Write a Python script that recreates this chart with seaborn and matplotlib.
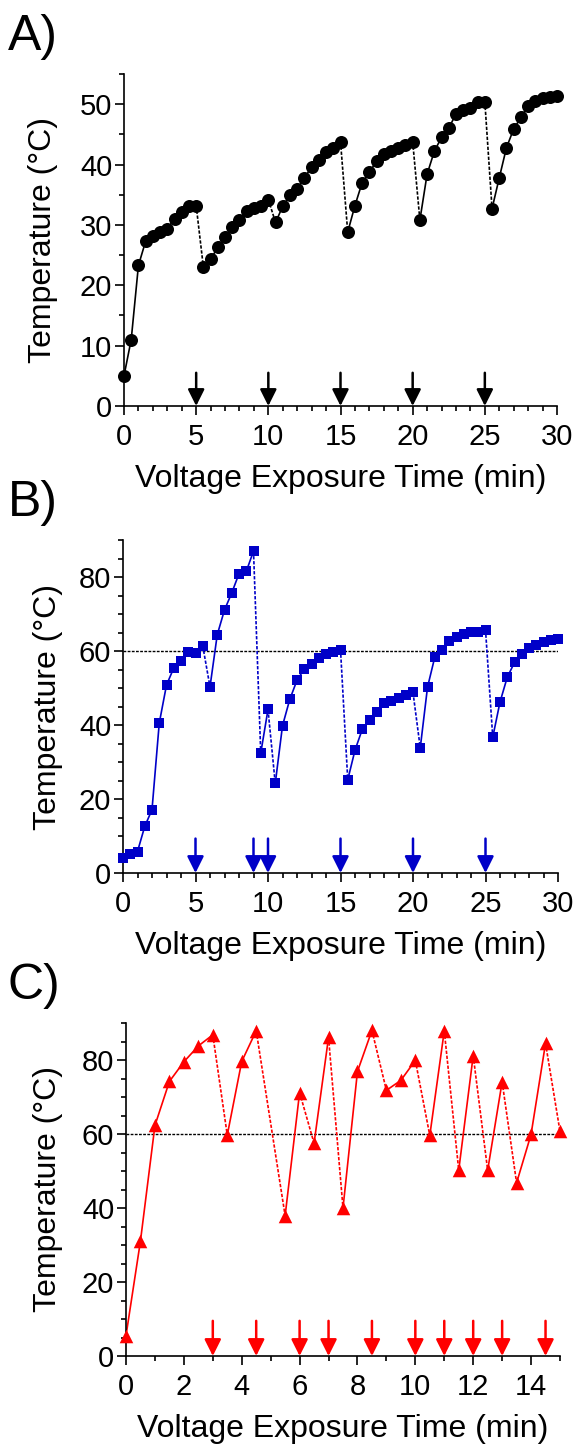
import pandas as pd
import seaborn as sns
import matplotlib.pyplot as plt
import matplotlib.ticker as ticker

sns.set_style("ticks")
plt.rcParams['font.family'] = ['Liberation Sans', 'DejaVu Sans']
plt.rcParams['axes.edgecolor'] = 'black'
plt.rcParams['axes.labelcolor'] = 'black'
plt.rcParams['text.color'] = 'black'
plt.rcParams['xtick.color'] = 'black'
plt.rcParams['ytick.color'] = 'black'

# panel A - black circles
time_a = [0, 0.5, 1, 1.5, 2, 2.5, 3, 3.5, 4, 4.5, 5,
          5.5, 6, 6.5, 7, 7.5, 8, 8.5, 9, 9.5, 10,
          10.5, 11, 11.5, 12, 12.5, 13, 13.5, 14, 14.5, 15,
          15.5, 16, 16.5, 17, 17.5, 18, 18.5, 19, 19.5, 20,
          20.5, 21, 21.5, 22, 22.5, 23, 23.5, 24, 24.5, 25,
          25.5, 26, 26.5, 27, 27.5, 28, 28.5, 29, 29.5, 30]
temp_a = [5.0, 11.0, 23.3, 27.3, 28.2, 28.8, 29.4, 31.0, 32.2, 33.1, 33.2,
          23.0, 24.3, 26.3, 28.0, 29.7, 30.8, 32.3, 32.8, 33.2, 34.2,
          30.4, 33.1, 34.9, 36.0, 37.8, 39.6, 40.7, 42.0, 42.8, 43.8,
          28.8, 33.2, 37.0, 38.7, 40.6, 41.7, 42.3, 42.8, 43.3, 43.8,
          30.8, 38.4, 42.2, 44.5, 46.0, 48.4, 49.0, 49.4, 50.4, 50.4,
          32.7, 37.8, 42.8, 45.9, 47.8, 49.7, 50.6, 51.0, 51.2, 51.4]
dashed_a = [5, 10, 15, 20, 25]
arrows_a = [5, 10, 15, 20, 25]

# panel B - blue squares
time_b = list(time_a)
temp_b = [4.1, 5.1, 5.8, 12.6, 17.1, 40.5, 50.8, 55.4, 57.4, 59.6, 59.4,
          61.4, 50.3, 64.4, 71.1, 75.7, 80.9, 81.5, 87.0, 32.4, 44.2,
          24.2, 39.8, 46.9, 52.1, 55.1, 56.4, 58.2, 59.1, 59.6, 60.4,
          25.2, 33.2, 38.8, 41.3, 43.4, 45.9, 46.5, 47.3, 48.0, 48.8,
          33.8, 50.2, 58.3, 60.2, 62.8, 63.8, 64.6, 65.1, 65.1, 65.8,
          36.7, 46.2, 52.9, 56.9, 59.3, 60.7, 61.7, 62.4, 62.9, 63.2]
dashed_b = [5.5, 9, 10, 15, 20, 25]
arrows_b = [5, 9, 10, 15, 20, 25]

# panel C - red triangles
time_c = [0, 0.5, 1, 1.5, 2, 2.5, 3, 3.5, 4, 4.5,
          5.5, 6, 6.5, 7, 7.5, 8, 8.5, 9, 9.5, 10,
          10.5, 11, 11.5, 12, 12.5, 13, 13.5, 14, 14.5, 15]
temp_c = [5.5, 31.1, 62.3, 74.2, 79.5, 83.8, 86.8, 59.7, 79.6, 87.9,
          37.9, 71.2, 57.5, 86.1, 40.0, 76.9, 88.0, 71.8, 74.5, 79.9,
          59.6, 87.9, 50.2, 81.2, 50.2, 74.1, 46.8, 59.9, 84.5, 60.7]
dashed_c = [3, 4.5, 6, 7, 8.5, 10, 11, 12, 13, 14.5]
arrows_c = [3, 4.5, 6, 7, 8.5, 10, 11, 12, 13, 14.5]

blue = '#0000C8'
red = '#FF0000'


def segments(times, temps, dashed):
    rows = []
    for i in range(len(times) - 1):
        kind = 'dashed' if times[i] in dashed else 'solid'
        rows.append((i, times[i], temps[i], kind))
        rows.append((i, times[i + 1], temps[i + 1], kind))
    return pd.DataFrame(rows, columns=['seg', 't', 'T', 'kind'])


def panel(ax, times, temps, dashed, arrows, color, marker, size,
          xmax, ymax, xmaj, ymaj, arrow_top, ref=None):
    df = segments(times, temps, dashed)
    if ref is not None:
        ax.axhline(ref, color='black', ls=(0, (2, 1)), lw=1.0, zorder=1)
    sns.lineplot(data=df, x='t', y='T', units='seg', style='kind',
                 dashes={'solid': '', 'dashed': (2, 1)}, estimator=None,
                 sort=False, color=color, lw=1.2, legend=False, ax=ax)
    sns.scatterplot(x=times, y=temps, marker=marker, s=size, color=color,
                    edgecolor=color, linewidth=0, zorder=3, clip_on=False, ax=ax)
    for t in arrows:
        ax.annotate('', xy=(t, 0), xytext=(t, arrow_top),
                    arrowprops=dict(arrowstyle='-|>', color=color, lw=1.8,
                                    shrinkA=0, shrinkB=0, mutation_scale=25))
    ax.set_xlim(0, xmax)
    ax.set_ylim(0, ymax)
    ax.xaxis.set_major_locator(ticker.MultipleLocator(xmaj))
    ax.xaxis.set_minor_locator(ticker.MultipleLocator(1))
    ax.yaxis.set_major_locator(ticker.MultipleLocator(ymaj))
    ax.yaxis.set_minor_locator(ticker.MultipleLocator(5))
    ax.tick_params(which='major', length=6.5, width=1.2, labelsize=21)
    ax.tick_params(axis='x', which='major', pad=6)
    ax.tick_params(axis='y', which='major', pad=2)
    ax.tick_params(which='minor', length=3.5, width=1.2)
    for s in ['left', 'bottom']:
        ax.spines[s].set_linewidth(1.2)
    sns.despine(ax=ax)
    ax.set_xlabel('Voltage Exposure Time (min)', fontsize=23)
    ax.set_ylabel('Temperature (\u00b0C)', fontsize=23)


fig = plt.figure(figsize=(5.77, 14.44), dpi=100)
W, H = 577, 1444
boxes = [(124, 557, 74, 406), (123, 558, 540, 873), (126, 560, 1023, 1356)]
axes = []
for (l, r, t, b) in boxes:
    axes.append(fig.add_axes([l / W, (H - b) / H, (r - l) / W, (b - t) / H]))

panel(axes[0], time_a, temp_a, dashed_a, arrows_a, 'black', 'o', 88,
      30, 55, 5, 10, 5.5)
panel(axes[1], time_b, temp_b, dashed_b, arrows_b, blue, 's', 50,
      30, 90, 5, 20, 9.3, ref=60)
panel(axes[2], time_c, temp_c, dashed_c, arrows_c, red, '^', 95,
      15, 90, 2, 20, 9.5, ref=60)

ylab_x = [-0.152, -0.138, -0.145]
for ax, yx, (l, r, t, b), lab in zip(axes, ylab_x, boxes, ['A)', 'B)', 'C)']):
    ax.yaxis.set_label_coords(yx, 0.5)
    ax.xaxis.set_label_coords(0.5, -0.175)
    fig.text(8 / W, (H - (t - 24)) / H, lab, fontsize=36, va='baseline', ha='left')

fig.savefig('out.png', dpi=100)
